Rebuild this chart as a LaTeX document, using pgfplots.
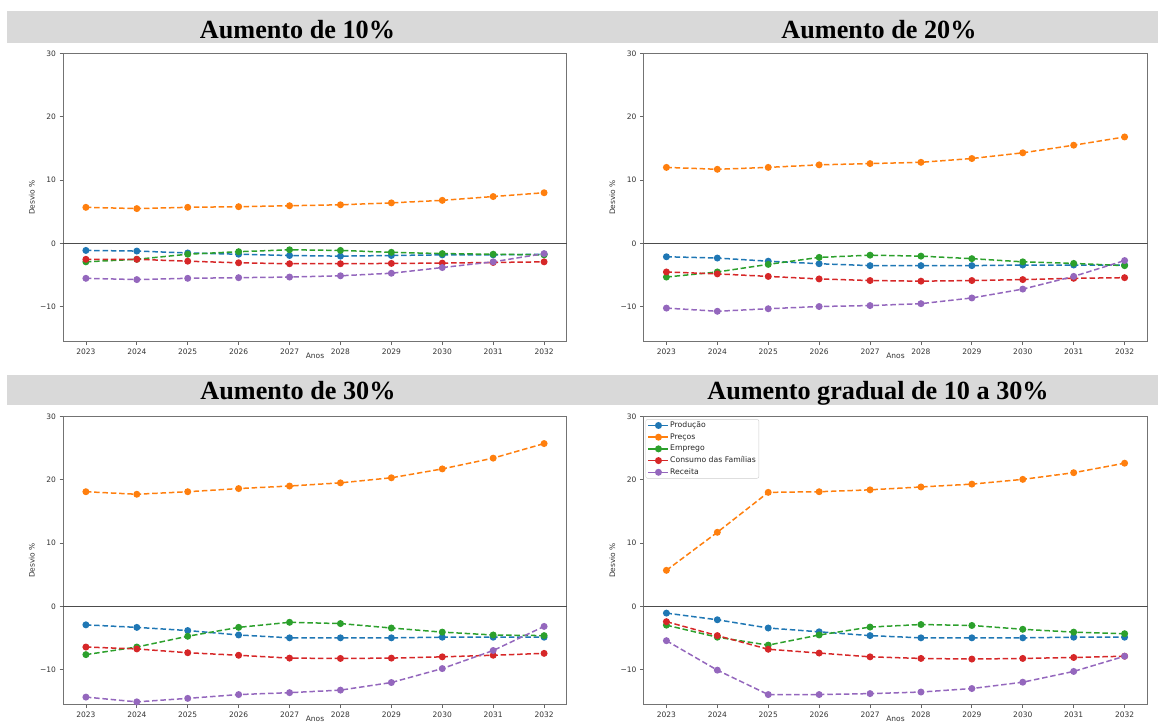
\documentclass[border=0pt]{standalone}
\usepackage{pgfplots}
\pgfplotsset{compat=1.18}
\usepackage{pgfplotstable}
\usepackage{fontspec}
\setmainfont{DejaVu Sans}
\newfontfamily\titlefont{Liberation Serif}

\definecolor{tabblue}{HTML}{1F77B4}
\definecolor{taborange}{HTML}{FF7F0E}
\definecolor{tabgreen}{HTML}{2CA02C}
\definecolor{tabred}{HTML}{D62728}
\definecolor{tabpurple}{HTML}{9467BD}
\definecolor{bargray}{RGB}{217,217,217}

\pgfplotstableread{
year p pr e c r
2023 -1.1 5.7 -2.9 -2.5 -5.5
2024 -1.2 5.5 -2.5 -2.5 -5.7
2025 -1.5 5.7 -1.7 -2.8 -5.5
2026 -1.7 5.8 -1.3 -3.05 -5.4
2027 -1.9 5.95 -1.0 -3.2 -5.3
2028 -2.0 6.1 -1.1 -3.2 -5.1
2029 -1.9 6.4 -1.4 -3.15 -4.7
2030 -1.8 6.8 -1.6 -3.1 -3.8
2031 -1.8 7.4 -1.7 -3.0 -2.9
2032 -1.7 8.0 -1.8 -2.9 -1.6
}\tA

\pgfplotstableread{
year p pr e c r
2023 -2.1 12.0 -5.3 -4.5 -10.2
2024 -2.3 11.7 -4.5 -4.8 -10.7
2025 -2.8 12.0 -3.3 -5.2 -10.3
2026 -3.2 12.4 -2.2 -5.6 -9.95
2027 -3.5 12.6 -1.85 -5.85 -9.8
2028 -3.5 12.8 -2.0 -5.95 -9.5
2029 -3.5 13.4 -2.4 -5.85 -8.6
2030 -3.4 14.3 -2.9 -5.7 -7.2
2031 -3.4 15.5 -3.15 -5.5 -5.2
2032 -3.4 16.8 -3.5 -5.4 -2.7
}\tB

\pgfplotstableread{
year p pr e c r
2023 -2.9 18.1 -7.6 -6.4 -14.3
2024 -3.3 17.7 -6.4 -6.7 -15.05
2025 -3.8 18.1 -4.7 -7.3 -14.5
2026 -4.5 18.6 -3.3 -7.7 -13.9
2027 -4.95 19.0 -2.5 -8.15 -13.6
2028 -4.95 19.5 -2.7 -8.2 -13.2
2029 -4.95 20.3 -3.4 -8.15 -12.0
2030 -4.85 21.7 -4.05 -7.95 -9.8
2031 -4.85 23.4 -4.5 -7.7 -6.95
2032 -4.85 25.7 -4.6 -7.4 -3.15
}\tC

\pgfplotstableread{
year p pr e c r
2023 -1.05 5.7 -2.95 -2.4 -5.4
2024 -2.1 11.7 -4.85 -4.6 -10.05
2025 -3.4 18.0 -6.1 -6.75 -13.9
2026 -4.0 18.1 -4.5 -7.35 -13.9
2027 -4.6 18.4 -3.25 -7.95 -13.75
2028 -4.95 18.85 -2.85 -8.2 -13.5
2029 -4.95 19.3 -3.0 -8.3 -12.95
2030 -4.95 20.05 -3.6 -8.2 -11.95
2031 -4.85 21.1 -4.05 -8.05 -10.25
2032 -4.85 22.6 -4.3 -7.85 -7.85
}\tD

\pgfplotsset{
  panel/.style={
    scale only axis, width=504pt, height=288.4pt,
    xmin=2022.55, xmax=2032.45, ymin=-15.5, ymax=30,
    xtick={2023,2024,2025,2026,2027,2028,2029,2030,2031,2032},
    xticklabels={2023,2024,2025,2026,2027,2028,2029,2030,2031,2032},
    ytick={-10,0,10,20,30},
    yticklabels={−10,0,10,20,30},
    tick align=outside, tick pos=left,
    major tick length=3.5pt,
    tick style={black!60, line width=0.8pt},
    axis line style={black!55, line width=1pt},
    ticklabel style={font=\fontsize{7.5}{9}\selectfont, text=black!80},
    xlabel={Anos}, ylabel={Desvio \%},
    every axis x label/.style={at={(axis description cs:0.5,-0.04)}, anchor=north, inner sep=0pt, font=\fontsize{7.5}{9}\selectfont, text=black!80},
    every axis y label/.style={at={(axis description cs:-0.062,0.5)}, rotate=90, anchor=center, inner sep=0pt, font=\fontsize{7.5}{9}\selectfont, text=black!80},
    every axis plot/.append style={line width=1.5pt, dash pattern=on 5.5pt off 2.8pt, mark=*, mark size=2.7pt, mark options={solid}},
  },
}

\newcommand{\series}[1]{%
  \addplot[black!70, line width=1.1pt, solid, no marks, forget plot] coordinates {(2022,0) (2033,0)};
  \addplot[tabblue] table[x=year,y=p]{#1};
  \addplot[taborange] table[x=year,y=pr]{#1};
  \addplot[tabgreen] table[x=year,y=e]{#1};
  \addplot[tabred] table[x=year,y=c]{#1};
  \addplot[tabpurple] table[x=year,y=r]{#1};
}

\begin{document}
\begin{tikzpicture}
\useasboundingbox (0,0) rectangle (1158pt,724pt);
\fill[bargray] (7pt,680.5pt) rectangle (1158pt,712.5pt);
\fill[bargray] (7pt,319pt) rectangle (1158pt,349.5pt);
\tikzset{ttl/.style={anchor=base, inner sep=0pt, font={\titlefont\bfseries\fontsize{26.2}{30}\selectfont}}}
\node[ttl] at (297.5pt,685.5pt) {Aumento de 10\%};
\node[ttl] at (879pt,685.5pt) {Aumento de 20\%};
\node[ttl] at (298pt,324.3pt) {Aumento de 30\%};
\node[ttl] at (878pt,324.3pt) {Aumento gradual de 10 a 30\%};

\begin{axis}[panel, at={(63pt,382.3pt)}, anchor=south west]
\series{\tA}
\end{axis}
\begin{axis}[panel, at={(643.5pt,382.3pt)}, anchor=south west]
\series{\tB}
\end{axis}
\begin{axis}[panel, at={(63pt,19.3pt)}, anchor=south west]
\series{\tC}
\end{axis}
\begin{axis}[panel, at={(643.5pt,19.3pt)}, anchor=south west,
  legend cell align=left,
  legend image code/.code={\draw[#1, solid, mark repeat=2, mark phase=2] plot coordinates {(0pt,0pt) (10pt,0pt) (20pt,0pt)};},
  legend style={at={(axis description cs:0.004,0.99)}, anchor=north west, draw=black!20, fill=white, rounded corners=2pt,
    font=\fontsize{7.7}{9}\selectfont, text=black!85, inner xsep=2pt, inner ysep=1.5pt, row sep=2.5pt,
    nodes={inner sep=1pt, text height=5.7pt, text depth=1.5pt}},
  legend entries={Produção,Preços,Emprego,Consumo das Famílias,Receita}]
\series{\tD}
\end{axis}
\end{tikzpicture}
\end{document}
